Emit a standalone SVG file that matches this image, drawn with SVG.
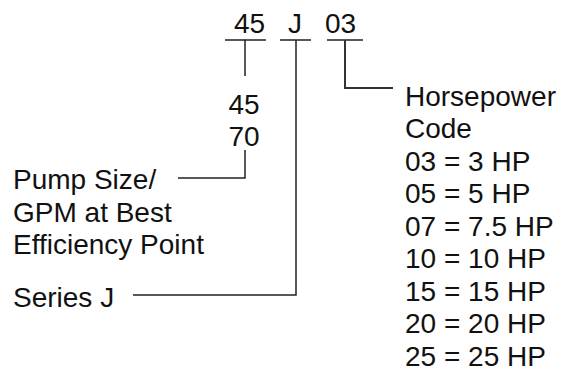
<svg xmlns="http://www.w3.org/2000/svg" width="578" height="372" viewBox="0 0 578 372">
<style>
text{font-family:"Liberation Sans",Arial,sans-serif;font-size:28px;fill:#111}
.c{text-anchor:middle}
.ln{stroke:#222;stroke-width:1.5;fill:none}
.hp{stroke:#333;stroke-width:2}
</style>
<rect width="578" height="372" fill="#fff"/>
<g id="code">
<text class="c" x="249.5" y="33">45</text>
<text class="c" x="295" y="33">J</text>
<text class="c" x="340.5" y="33">03</text>
</g>
<g id="connectors">
<path class="ln" d="M225 40H266M245 40V76"/>
<path class="ln" d="M280 40H311M296 40V295H133"/>
<path class="ln" d="M327 40H363"/>
<path class="ln hp" d="M345 40V88H393"/>
<path class="ln" d="M245 150V178H178"/>
</g>
<g id="size-values">
<text class="c" x="244" y="113.5">45</text>
<text class="c" x="244" y="146">70</text>
</g>
<g id="pump-size">
<text x="13" y="189">Pump Size/</text>
<text x="13" y="221.5">GPM at Best</text>
<text x="13" y="254">Efficiency Point</text>
</g>
<g id="series">
<text x="13" y="307">Series J</text>
</g>
<g id="horsepower">
<text x="405" y="105.5">Horsepower</text>
<text x="405" y="138">Code</text>
<text x="405" y="170.5">03 = 3 HP</text>
<text x="405" y="203">05 = 5 HP</text>
<text x="405" y="235.5">07 = 7.5 HP</text>
<text x="405" y="268">10 = 10 HP</text>
<text x="405" y="300.5">15 = 15 HP</text>
<text x="405" y="333">20 = 20 HP</text>
<text x="405" y="365.5">25 = 25 HP</text>
</g>
</svg>
